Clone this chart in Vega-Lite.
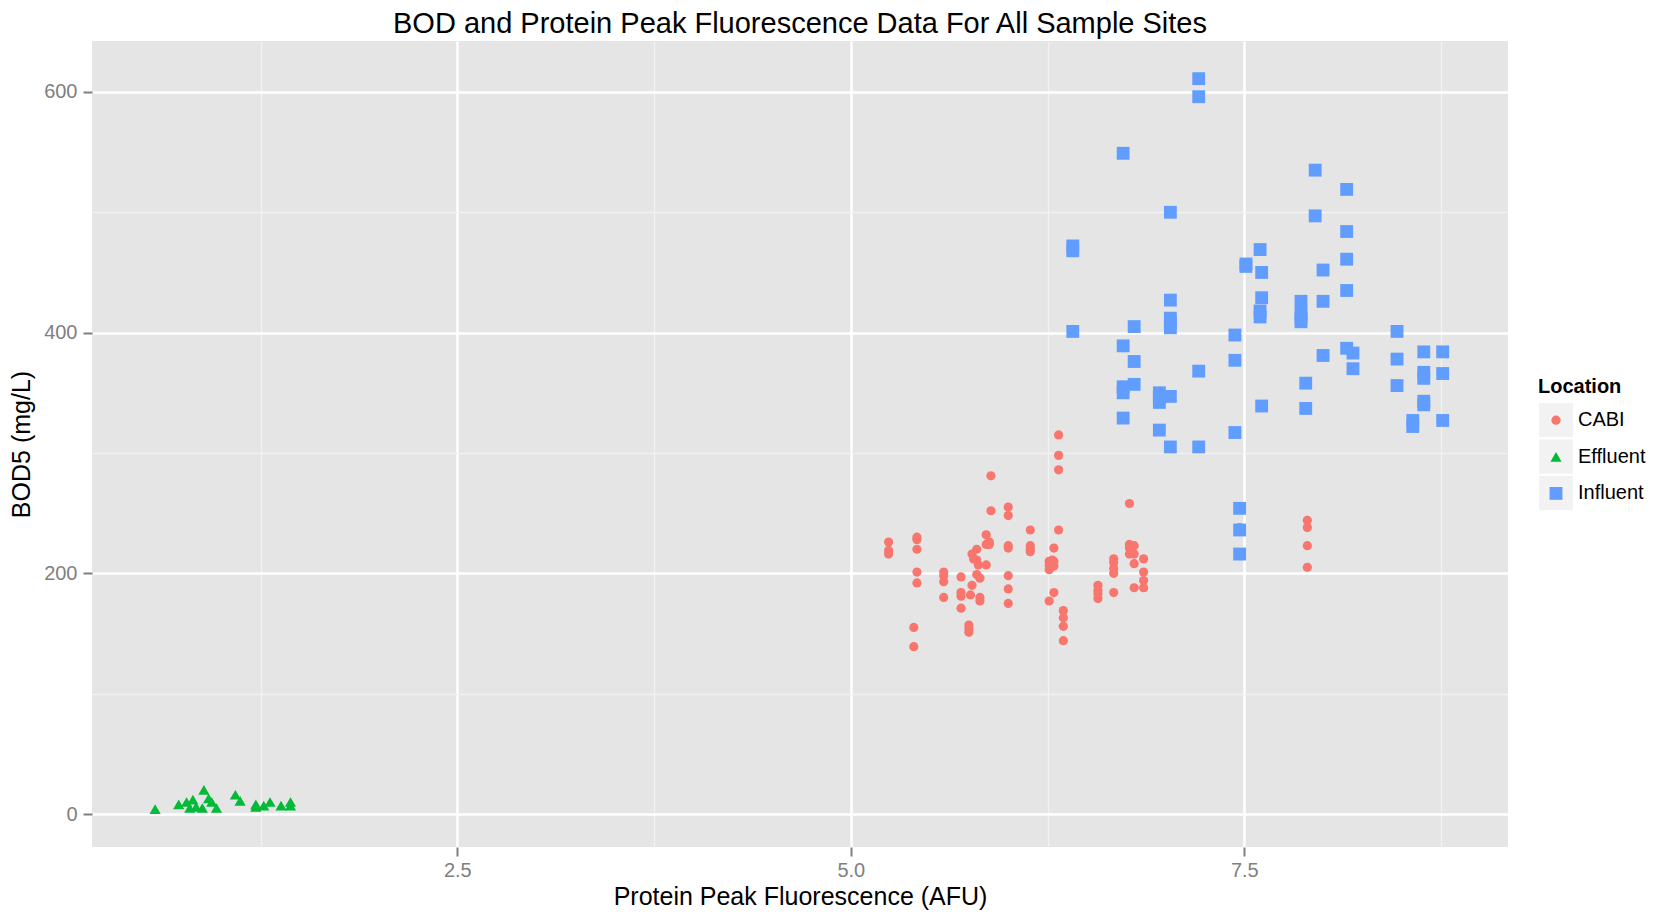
{
  "$schema": "https://vega.github.io/schema/vega-lite/v6.json",
  "autosize": "none",
  "width": 1416,
  "height": 806,
  "padding": {"left": 92, "top": 41, "right": 153, "bottom": 65},
  "background": "white",
  "title": {
    "text": "BOD and Protein Peak Fluorescence Data For All Sample Sites",
    "font": "Liberation Sans",
    "fontSize": 29,
    "fontWeight": "normal",
    "color": "black",
    "anchor": "middle",
    "baseline": "alphabetic",
    "offset": 8,
    "dy": 29
  },
  "config": {
    "view": {"fill": "#E5E5E5", "stroke": null},
    "font": "Liberation Sans",
    "axis": {
      "domain": false,
      "labelFont": "Liberation Sans",
      "labelFontSize": 20,
      "labelColor": "#7F7F7F",
      "tickColor": "#7F7F7F",
      "tickSize": 9,
      "titleFont": "Liberation Sans",
      "titleFontSize": 25,
      "titleFontWeight": "normal",
      "titleColor": "black"
    },
    "legend": {
      "titleFont": "Liberation Sans",
      "titleFontSize": 20,
      "titleFontWeight": "bold",
      "titleColor": "black",
      "labelFont": "Liberation Sans",
      "labelFontSize": 20,
      "labelColor": "black"
    }
  },
  "data": {
    "values": [
      {"protein": 5.24, "bod": 226, "Location": "CABI"},
      {"protein": 5.24, "bod": 219, "Location": "CABI"},
      {"protein": 5.24, "bod": 216, "Location": "CABI"},
      {"protein": 5.42, "bod": 230, "Location": "CABI"},
      {"protein": 5.42, "bod": 228, "Location": "CABI"},
      {"protein": 5.42, "bod": 220, "Location": "CABI"},
      {"protein": 5.42, "bod": 201, "Location": "CABI"},
      {"protein": 5.42, "bod": 192, "Location": "CABI"},
      {"protein": 5.40, "bod": 155, "Location": "CABI"},
      {"protein": 5.40, "bod": 139, "Location": "CABI"},
      {"protein": 5.59, "bod": 201, "Location": "CABI"},
      {"protein": 5.59, "bod": 198, "Location": "CABI"},
      {"protein": 5.59, "bod": 193, "Location": "CABI"},
      {"protein": 5.59, "bod": 180, "Location": "CABI"},
      {"protein": 5.70, "bod": 197, "Location": "CABI"},
      {"protein": 5.70, "bod": 184, "Location": "CABI"},
      {"protein": 5.70, "bod": 181, "Location": "CABI"},
      {"protein": 5.70, "bod": 171, "Location": "CABI"},
      {"protein": 5.75, "bod": 157, "Location": "CABI"},
      {"protein": 5.75, "bod": 154, "Location": "CABI"},
      {"protein": 5.75, "bod": 151, "Location": "CABI"},
      {"protein": 5.77, "bod": 216, "Location": "CABI"},
      {"protein": 5.80, "bod": 220, "Location": "CABI"},
      {"protein": 5.78, "bod": 212, "Location": "CABI"},
      {"protein": 5.80, "bod": 211, "Location": "CABI"},
      {"protein": 5.81, "bod": 207, "Location": "CABI"},
      {"protein": 5.80, "bod": 199, "Location": "CABI"},
      {"protein": 5.82, "bod": 196, "Location": "CABI"},
      {"protein": 5.77, "bod": 190, "Location": "CABI"},
      {"protein": 5.76, "bod": 182, "Location": "CABI"},
      {"protein": 5.82, "bod": 180, "Location": "CABI"},
      {"protein": 5.82, "bod": 177, "Location": "CABI"},
      {"protein": 5.86, "bod": 232, "Location": "CABI"},
      {"protein": 5.86, "bod": 224, "Location": "CABI"},
      {"protein": 5.88, "bod": 226, "Location": "CABI"},
      {"protein": 5.88, "bod": 224, "Location": "CABI"},
      {"protein": 5.86, "bod": 207, "Location": "CABI"},
      {"protein": 5.89, "bod": 281, "Location": "CABI"},
      {"protein": 5.89, "bod": 252, "Location": "CABI"},
      {"protein": 6.00, "bod": 255, "Location": "CABI"},
      {"protein": 6.00, "bod": 248, "Location": "CABI"},
      {"protein": 6.00, "bod": 223, "Location": "CABI"},
      {"protein": 6.00, "bod": 221, "Location": "CABI"},
      {"protein": 6.00, "bod": 198, "Location": "CABI"},
      {"protein": 6.00, "bod": 187, "Location": "CABI"},
      {"protein": 6.00, "bod": 175, "Location": "CABI"},
      {"protein": 6.14, "bod": 236, "Location": "CABI"},
      {"protein": 6.14, "bod": 223, "Location": "CABI"},
      {"protein": 6.14, "bod": 220, "Location": "CABI"},
      {"protein": 6.14, "bod": 218, "Location": "CABI"},
      {"protein": 6.29, "bod": 221, "Location": "CABI"},
      {"protein": 6.26, "bod": 210, "Location": "CABI"},
      {"protein": 6.28, "bod": 211, "Location": "CABI"},
      {"protein": 6.29, "bod": 210, "Location": "CABI"},
      {"protein": 6.29, "bod": 206, "Location": "CABI"},
      {"protein": 6.26, "bod": 203, "Location": "CABI"},
      {"protein": 6.26, "bod": 207, "Location": "CABI"},
      {"protein": 6.29, "bod": 184, "Location": "CABI"},
      {"protein": 6.26, "bod": 177, "Location": "CABI"},
      {"protein": 6.32, "bod": 315, "Location": "CABI"},
      {"protein": 6.32, "bod": 298, "Location": "CABI"},
      {"protein": 6.32, "bod": 286, "Location": "CABI"},
      {"protein": 6.32, "bod": 236, "Location": "CABI"},
      {"protein": 6.35, "bod": 169, "Location": "CABI"},
      {"protein": 6.35, "bod": 163, "Location": "CABI"},
      {"protein": 6.35, "bod": 156, "Location": "CABI"},
      {"protein": 6.35, "bod": 144, "Location": "CABI"},
      {"protein": 6.57, "bod": 190, "Location": "CABI"},
      {"protein": 6.57, "bod": 186, "Location": "CABI"},
      {"protein": 6.57, "bod": 183, "Location": "CABI"},
      {"protein": 6.57, "bod": 179, "Location": "CABI"},
      {"protein": 6.67, "bod": 212, "Location": "CABI"},
      {"protein": 6.67, "bod": 209, "Location": "CABI"},
      {"protein": 6.67, "bod": 204, "Location": "CABI"},
      {"protein": 6.67, "bod": 200, "Location": "CABI"},
      {"protein": 6.67, "bod": 184, "Location": "CABI"},
      {"protein": 6.77, "bod": 258, "Location": "CABI"},
      {"protein": 6.77, "bod": 224, "Location": "CABI"},
      {"protein": 6.77, "bod": 221, "Location": "CABI"},
      {"protein": 6.77, "bod": 216, "Location": "CABI"},
      {"protein": 6.80, "bod": 223, "Location": "CABI"},
      {"protein": 6.80, "bod": 216, "Location": "CABI"},
      {"protein": 6.80, "bod": 208, "Location": "CABI"},
      {"protein": 6.80, "bod": 188, "Location": "CABI"},
      {"protein": 6.86, "bod": 212, "Location": "CABI"},
      {"protein": 6.86, "bod": 201, "Location": "CABI"},
      {"protein": 6.86, "bod": 194, "Location": "CABI"},
      {"protein": 6.86, "bod": 188, "Location": "CABI"},
      {"protein": 7.47, "bod": 238, "Location": "CABI"},
      {"protein": 7.90, "bod": 244, "Location": "CABI"},
      {"protein": 7.90, "bod": 238, "Location": "CABI"},
      {"protein": 7.90, "bod": 223, "Location": "CABI"},
      {"protein": 7.90, "bod": 205, "Location": "CABI"},
      {"protein": 0.58, "bod": 4, "Location": "Effluent"},
      {"protein": 0.73, "bod": 8, "Location": "Effluent"},
      {"protein": 0.78, "bod": 10, "Location": "Effluent"},
      {"protein": 0.82, "bod": 12, "Location": "Effluent"},
      {"protein": 0.80, "bod": 5, "Location": "Effluent"},
      {"protein": 0.84, "bod": 6, "Location": "Effluent"},
      {"protein": 0.88, "bod": 5, "Location": "Effluent"},
      {"protein": 0.89, "bod": 20, "Location": "Effluent"},
      {"protein": 0.92, "bod": 13, "Location": "Effluent"},
      {"protein": 0.94, "bod": 10, "Location": "Effluent"},
      {"protein": 0.97, "bod": 5, "Location": "Effluent"},
      {"protein": 1.09, "bod": 16, "Location": "Effluent"},
      {"protein": 1.12, "bod": 11, "Location": "Effluent"},
      {"protein": 1.22, "bod": 8, "Location": "Effluent"},
      {"protein": 1.22, "bod": 6, "Location": "Effluent"},
      {"protein": 1.27, "bod": 7, "Location": "Effluent"},
      {"protein": 1.31, "bod": 10, "Location": "Effluent"},
      {"protein": 1.38, "bod": 7, "Location": "Effluent"},
      {"protein": 1.44, "bod": 10, "Location": "Effluent"},
      {"protein": 1.44, "bod": 7, "Location": "Effluent"},
      {"protein": 7.21, "bod": 611, "Location": "Influent"},
      {"protein": 7.21, "bod": 596, "Location": "Influent"},
      {"protein": 6.73, "bod": 549, "Location": "Influent"},
      {"protein": 7.95, "bod": 535, "Location": "Influent"},
      {"protein": 8.15, "bod": 519, "Location": "Influent"},
      {"protein": 7.03, "bod": 500, "Location": "Influent"},
      {"protein": 7.95, "bod": 497, "Location": "Influent"},
      {"protein": 8.15, "bod": 484, "Location": "Influent"},
      {"protein": 6.41, "bod": 472, "Location": "Influent"},
      {"protein": 6.41, "bod": 468, "Location": "Influent"},
      {"protein": 7.60, "bod": 469, "Location": "Influent"},
      {"protein": 8.15, "bod": 461, "Location": "Influent"},
      {"protein": 7.51, "bod": 457, "Location": "Influent"},
      {"protein": 7.51, "bod": 455, "Location": "Influent"},
      {"protein": 7.61, "bod": 450, "Location": "Influent"},
      {"protein": 8.00, "bod": 452, "Location": "Influent"},
      {"protein": 8.15, "bod": 435, "Location": "Influent"},
      {"protein": 7.03, "bod": 427, "Location": "Influent"},
      {"protein": 7.61, "bod": 429, "Location": "Influent"},
      {"protein": 7.86, "bod": 426, "Location": "Influent"},
      {"protein": 8.00, "bod": 426, "Location": "Influent"},
      {"protein": 7.60, "bod": 418, "Location": "Influent"},
      {"protein": 7.60, "bod": 413, "Location": "Influent"},
      {"protein": 7.86, "bod": 416, "Location": "Influent"},
      {"protein": 7.86, "bod": 412, "Location": "Influent"},
      {"protein": 7.86, "bod": 409, "Location": "Influent"},
      {"protein": 7.03, "bod": 412, "Location": "Influent"},
      {"protein": 7.03, "bod": 408, "Location": "Influent"},
      {"protein": 7.03, "bod": 404, "Location": "Influent"},
      {"protein": 6.41, "bod": 401, "Location": "Influent"},
      {"protein": 6.80, "bod": 405, "Location": "Influent"},
      {"protein": 8.47, "bod": 401, "Location": "Influent"},
      {"protein": 7.44, "bod": 398, "Location": "Influent"},
      {"protein": 6.73, "bod": 389, "Location": "Influent"},
      {"protein": 8.15, "bod": 387, "Location": "Influent"},
      {"protein": 8.19, "bod": 383, "Location": "Influent"},
      {"protein": 8.64, "bod": 384, "Location": "Influent"},
      {"protein": 8.76, "bod": 384, "Location": "Influent"},
      {"protein": 8.00, "bod": 381, "Location": "Influent"},
      {"protein": 6.80, "bod": 376, "Location": "Influent"},
      {"protein": 7.44, "bod": 377, "Location": "Influent"},
      {"protein": 8.47, "bod": 378, "Location": "Influent"},
      {"protein": 8.19, "bod": 370, "Location": "Influent"},
      {"protein": 7.21, "bod": 368, "Location": "Influent"},
      {"protein": 8.64, "bod": 367, "Location": "Influent"},
      {"protein": 8.64, "bod": 362, "Location": "Influent"},
      {"protein": 8.76, "bod": 366, "Location": "Influent"},
      {"protein": 6.80, "bod": 357, "Location": "Influent"},
      {"protein": 7.89, "bod": 358, "Location": "Influent"},
      {"protein": 8.47, "bod": 356, "Location": "Influent"},
      {"protein": 6.73, "bod": 355, "Location": "Influent"},
      {"protein": 6.73, "bod": 350, "Location": "Influent"},
      {"protein": 6.96, "bod": 350, "Location": "Influent"},
      {"protein": 6.96, "bod": 346, "Location": "Influent"},
      {"protein": 6.96, "bod": 342, "Location": "Influent"},
      {"protein": 7.03, "bod": 347, "Location": "Influent"},
      {"protein": 8.64, "bod": 343, "Location": "Influent"},
      {"protein": 8.64, "bod": 340, "Location": "Influent"},
      {"protein": 7.61, "bod": 339, "Location": "Influent"},
      {"protein": 7.89, "bod": 337, "Location": "Influent"},
      {"protein": 6.73, "bod": 329, "Location": "Influent"},
      {"protein": 8.57, "bod": 327, "Location": "Influent"},
      {"protein": 8.57, "bod": 322, "Location": "Influent"},
      {"protein": 8.76, "bod": 327, "Location": "Influent"},
      {"protein": 6.96, "bod": 319, "Location": "Influent"},
      {"protein": 7.44, "bod": 317, "Location": "Influent"},
      {"protein": 7.03, "bod": 305, "Location": "Influent"},
      {"protein": 7.21, "bod": 305, "Location": "Influent"},
      {"protein": 7.47, "bod": 254, "Location": "Influent"},
      {"protein": 7.47, "bod": 236, "Location": "Influent"},
      {"protein": 7.47, "bod": 216, "Location": "Influent"}
    ]
  },
  "mark": {"type": "point", "filled": true, "opacity": 1},
  "encoding": {
    "x": {
      "field": "protein",
      "type": "quantitative",
      "title": "Protein Peak Fluorescence (AFU)",
      "scale": {"domain": [0.179, 9.175], "nice": false, "zero": false},
      "axis": {
        "values": [1.25, 2.5, 3.75, 5, 6.25, 7.5, 8.75],
        "format": ".1f",
        "labelExpr": "datum.value % 2.5 === 0 ? datum.label : ''",
        "labelPadding": 4,
        "titlePadding": 4,
        "gridColor": {"condition": {"test": "datum.value % 2.5 === 0", "value": "#FFFFFF"}, "value": "#F2F2F2"},
        "gridWidth": {"condition": {"test": "datum.value % 2.5 === 0", "value": 2.5}, "value": 1.3},
        "tickOpacity": {"condition": {"test": "datum.value % 2.5 === 0", "value": 1}, "value": 0},
        "tickWidth": 2
      }
    },
    "y": {
      "field": "bod",
      "type": "quantitative",
      "title": "BOD5 (mg/L)",
      "scale": {"domain": [-27.4, 642.3], "nice": false, "zero": false},
      "axis": {
        "values": [0, 100, 200, 300, 400, 500, 600],
        "labelExpr": "datum.value % 200 === 0 ? datum.label : ''",
        "labelPadding": 6,
        "titlePadding": 9,
        "gridColor": {"condition": {"test": "datum.value % 200 === 0", "value": "#FFFFFF"}, "value": "#F2F2F2"},
        "gridWidth": {"condition": {"test": "datum.value % 200 === 0", "value": 2.5}, "value": 1.3},
        "tickOpacity": {"condition": {"test": "datum.value % 200 === 0", "value": 1}, "value": 0},
        "tickWidth": 2
      }
    },
    "color": {
      "field": "Location",
      "type": "nominal",
      "scale": {"domain": ["CABI", "Effluent", "Influent"], "range": ["#F8766D", "#00BA38", "#619CFF"]},
      "legend": {
        "orient": "none",
        "legendX": 1446,
        "legendY": 335.5,
        "zindex": 2,
        "symbolSize": 70,
        "symbolOpacity": 1,
        "rowPadding": 16.6,
        "titlePadding": 13.7,
        "symbolOffset": 8,
        "labelOffset": 12,
        "encode": {"symbols": {"update": {"opacity": {"value": 1}}}}
      }
    },
    "shape": {
      "field": "Location",
      "type": "nominal",
      "scale": {"domain": ["CABI", "Effluent", "Influent"], "range": ["circle", "triangle-up", "square"]}
    },
    "size": {
      "field": "Location",
      "type": "nominal",
      "scale": {"domain": ["CABI", "Effluent", "Influent"], "range": [85, 165, 100]},
      "legend": null
    },
    "opacity": {
      "field": "Location",
      "type": "nominal",
      "scale": {"range": [1, 1, 1]},
      "legend": {
        "orient": "none",
        "legendX": 1447,
        "legendY": 362,
        "zindex": 1,
        "title": null,
        "symbolType": "square",
        "symbolSize": 1156,
        "symbolOffset": 0,
        "symbolFillColor": "#F2F2F2",
        "symbolStrokeColor": "#F2F2F2",
        "symbolStrokeWidth": 0,
        "symbolOpacity": 1,
        "rowPadding": 2.5,
        "labelExpr": "''",
        "labelFontSize": 1,
        "encode": {"symbols": {"update": {"fill": {"value": "#F2F2F2"}, "fillOpacity": {"value": 1}, "strokeWidth": {"value": 0}, "opacity": {"value": 1}}}}
      }
    }
  }
}
